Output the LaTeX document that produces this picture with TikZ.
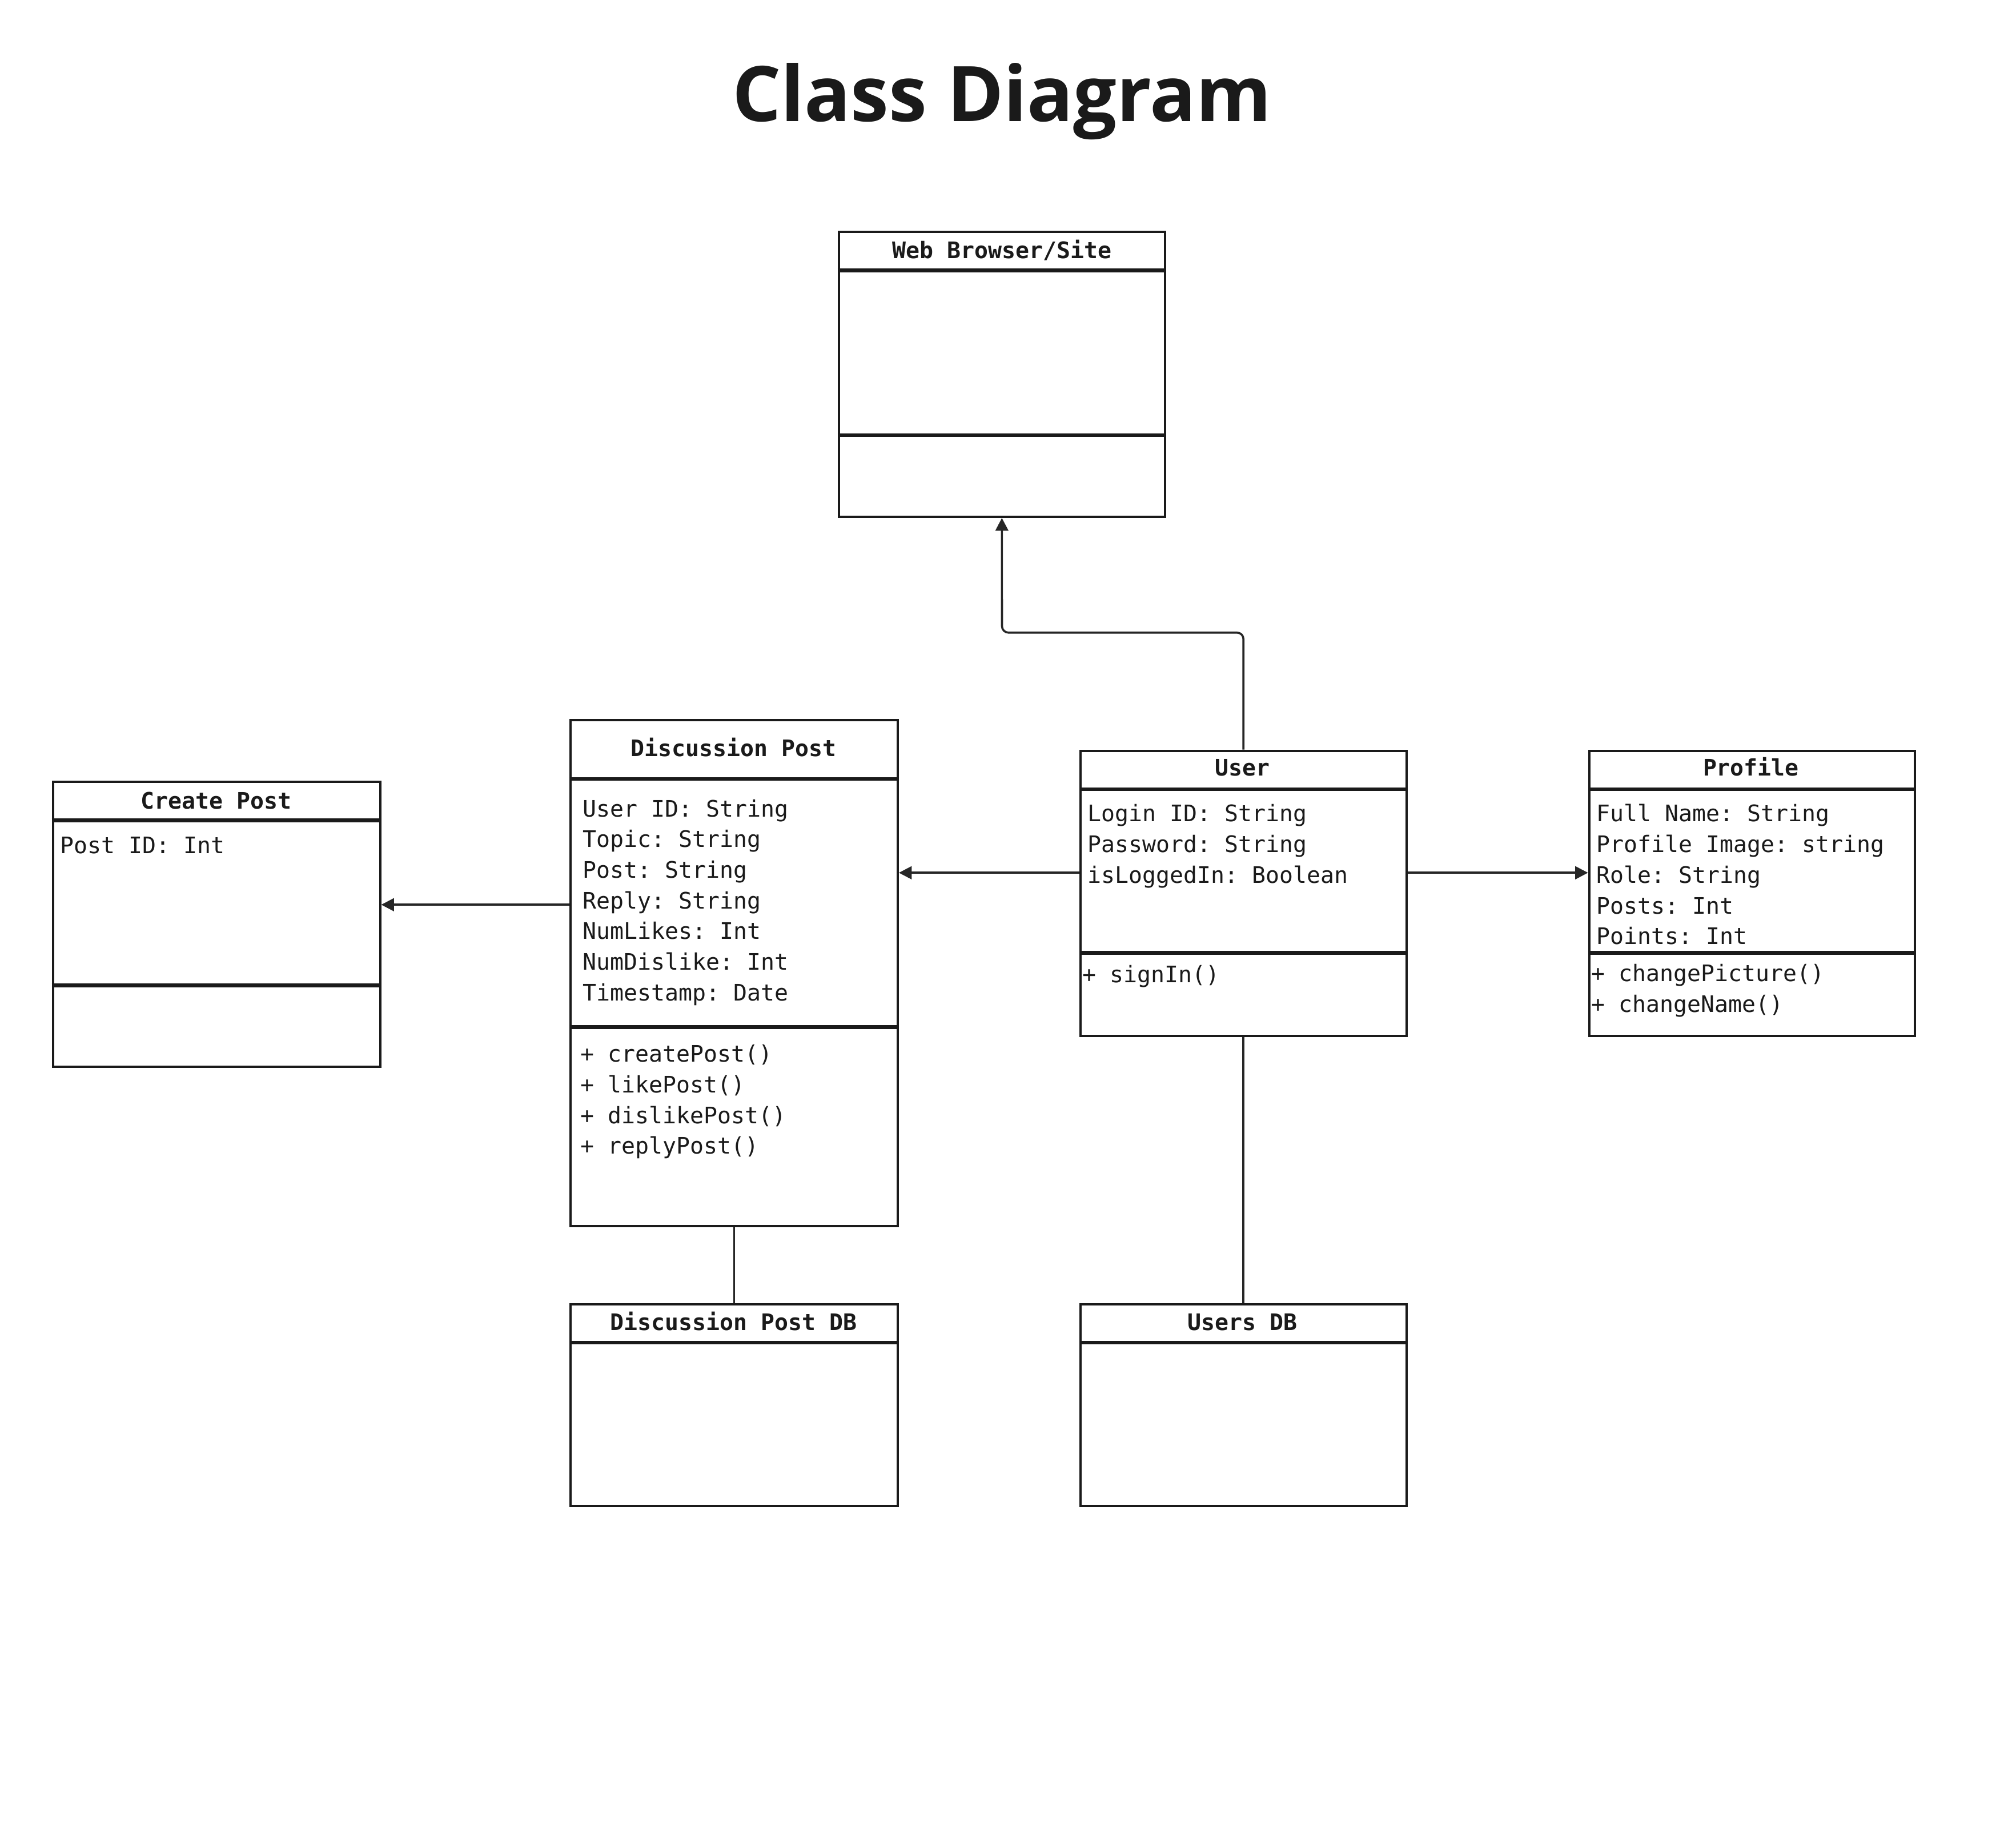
\documentclass[tikz,border=0pt]{standalone}
\usepackage{fontspec}
\setmainfont{Open Sans}
\setmonofont{DejaVu Sans Mono}
\usetikzlibrary{arrows.meta}
\definecolor{ink}{HTML}{1A1A1A}
\definecolor{wire}{HTML}{262626}

\begin{document}
\begin{tikzpicture}[x=1pt,y=-1pt,
  classbox/.style={draw=ink, line width=1.8pt, rectangle, anchor=north west,
    inner sep=0pt, fill=white},
  divider/.style={draw=ink, line width=3pt},
  head/.style={anchor=base, font=\ttfamily\bfseries\fontsize{17.8}{24}\selectfont,
    text=ink, inner sep=0pt},
  attr/.style={anchor=base west, font=\ttfamily\fontsize{17.8}{24}\selectfont,
    text=ink, inner sep=0pt},
  link/.style={draw=wire, line width=1.6pt},
  arrowlink/.style={link, -{Triangle[length=10pt,width=10pt]}},
]
% page
\fill[white] (0,0) rectangle (1568,1446);
\useasboundingbox (0,0) rectangle (1568,1446);

\node[anchor=base, text=ink, font=\fontsize{60}{66}\selectfont\bfseries]
  (title) at (784,95) {Class Diagram};

% ---- class boxes ----
\node[classbox, minimum width=255pt, minimum height=223pt] (web) at (655.5,180.5) {};
\draw[divider] ([yshift=-31pt]web.north west) -- ([yshift=-31pt]web.north east);
\draw[divider] ([yshift=-160pt]web.north west) -- ([yshift=-160pt]web.north east);
\node[head] (web-t) at (784,202) {Web Browser/Site};

\node[classbox, minimum width=256pt, minimum height=396pt] (dp) at (445.5,562.5) {};
\draw[divider] ([yshift=-47pt]dp.north west) -- ([yshift=-47pt]dp.north east);
\draw[divider] ([yshift=-241pt]dp.north west) -- ([yshift=-241pt]dp.north east);
\node[head] (dp-t) at (574,592) {Discussion Post};
\foreach \t [count=\i] in {User ID: String, Topic: String, Post: String,
    Reply: String, NumLikes: Int, NumDislike: Int, Timestamp: Date}
  \node[attr] (dp-a\i) at (456,{639+24*(\i-1)}) {\t};
\foreach \t [count=\i] in {+ createPost(), + likePost(), + dislikePost(), + replyPost()}
  \node[attr] (dp-m\i) at (454,{831+24*(\i-1)}) {\t};

\node[classbox, minimum width=256pt, minimum height=223pt] (create) at (40.5,611) {};
\draw[divider] ([yshift=-31pt]create.north west) -- ([yshift=-31pt]create.north east);
\draw[divider] ([yshift=-160pt]create.north west) -- ([yshift=-160pt]create.north east);
\node[head] (create-t) at (169,633) {Create Post};
\node[attr] (create-a1) at (47,668) {Post ID: Int};

\node[classbox, minimum width=255pt, minimum height=223pt] (user) at (844.5,586.5) {};
\draw[divider] ([yshift=-31pt]user.north west) -- ([yshift=-31pt]user.north east);
\draw[divider] ([yshift=-159pt]user.north west) -- ([yshift=-159pt]user.north east);
\node[head] (user-t) at (972,607) {User};
\foreach \t [count=\i] in {Login ID: String, Password: String, isLoggedIn: Boolean}
  \node[attr] (user-a\i) at (851,{643+24*(\i-1)}) {\t};
\node[attr] (user-m1) at (847,769) {+ signIn()};

\node[classbox, minimum width=255pt, minimum height=223pt] (profile) at (1242.5,586.5) {};
\draw[divider] ([yshift=-31pt]profile.north west) -- ([yshift=-31pt]profile.north east);
\draw[divider] ([yshift=-159pt]profile.north west) -- ([yshift=-159pt]profile.north east);
\node[head] (profile-t) at (1370,607) {Profile};
\foreach \t [count=\i] in {Full Name: String, Profile Image: string, Role: String,
    Posts: Int, Points: Int}
  \node[attr] (profile-a\i) at (1249,{643+24*(\i-1)}) {\t};
\foreach \t [count=\i] in {+ changePicture(), + changeName()}
  \node[attr] (profile-m\i) at (1245,{768+24*(\i-1)}) {\t};

\node[classbox, minimum width=256pt, minimum height=158pt] (dpdb) at (445.5,1019.5) {};
\draw[divider] ([yshift=-31pt]dpdb.north west) -- ([yshift=-31pt]dpdb.north east);
\node[head] (dpdb-t) at (574,1041) {Discussion Post DB};

\node[classbox, minimum width=255pt, minimum height=158pt] (udb) at (844.5,1019.5) {};
\draw[divider] ([yshift=-31pt]udb.north west) -- ([yshift=-31pt]udb.north east);
\node[head] (udb-t) at (972,1041) {Users DB};

% ---- connectors ----
\coordinate (bend) at (784,495);
\draw[arrowlink, rounded corners=5pt] (user.north) |- (bend) -- (web.south);

\coordinate (u-l) at ([yshift=16pt]user.west);
\draw[arrowlink] (u-l) -- (u-l -| dp.east);

\coordinate (u-r) at ([yshift=16pt]user.east);
\draw[arrowlink] (u-r) -- (u-r -| profile.west);

\coordinate (dp-l) at ([yshift=53.5pt]dp.west);
\draw[arrowlink] (dp-l) -- (dp-l -| create.east);

\draw[link] (dp.south) -- (dpdb.north);
\draw[link] (user.south) -- (udb.north);
\end{tikzpicture}
\end{document}
